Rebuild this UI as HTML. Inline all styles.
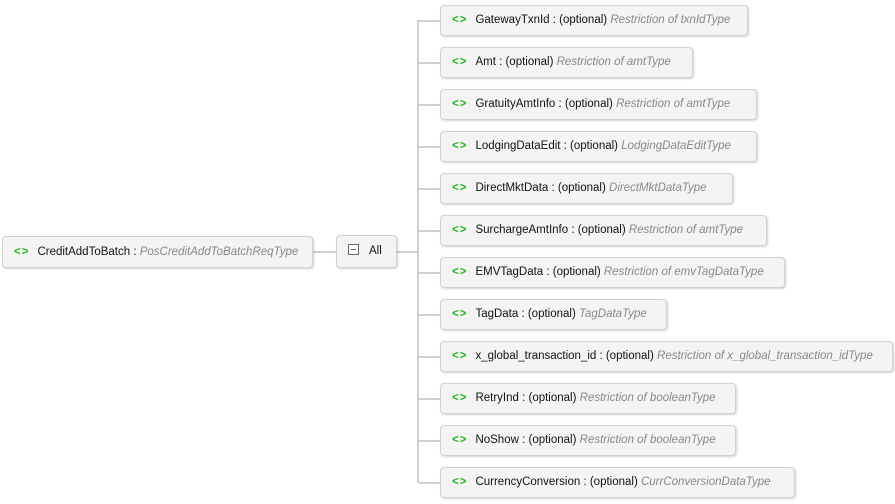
<!DOCTYPE html>
<html><head><meta charset="utf-8"><style>
body{margin:0;width:895px;height:504px;background:#fff;position:relative;font-family:"Liberation Sans",sans-serif;font-size:11.5px;overflow:hidden}
.b{position:absolute;box-sizing:border-box;background:#f4f4f4;border:1px solid #d2d2d2;border-radius:4px;box-shadow:1px 1px 2px rgba(0,0,0,.18);height:31px;line-height:29px;padding-left:11px;white-space:nowrap;color:#111}
.i{color:#22bb22;font-weight:bold;margin-right:8px;letter-spacing:1px}
.t{color:#888;font-style:italic}
.l{position:absolute;background:#cfcfcf}
</style></head><body>
<div class="l" style="left:313px;top:251px;width:23px;height:2px"></div>
<div class="l" style="left:397px;top:251px;width:22px;height:2px"></div>
<div class="l" style="left:417px;top:20px;width:2px;height:463px"></div>
<div class="b" style="left:2px;top:236px;width:311px;height:32px;line-height:30px"><span class="i">&lt;&gt;</span>CreditAddToBatch : <span class="t">PosCreditAddToBatchReqType</span></div>
<div class="b" style="left:336px;top:235px;width:61px;height:33px;line-height:31px"><span style="display:inline-block;width:9px;height:9px;border:1px solid #666;vertical-align:middle;margin-right:10px;position:relative;top:-1px;background:#fff"><span style="position:absolute;left:2px;top:4px;width:5px;height:1px;background:#666"></span></span>All</div>
<div id="c"></div>
<script>
var d=[["GatewayTxnId","Restriction of txnIdType",748],["Amt","Restriction of amtType",693],["GratuityAmtInfo","Restriction of amtType",757],["LodgingDataEdit","LodgingDataEditType",757],["DirectMktData","DirectMktDataType",733],["SurchargeAmtInfo","Restriction of amtType",767],["EMVTagData","Restriction of emvTagDataType",785],["TagData","TagDataType",667],["x_global_transaction_id","Restriction of x_global_transaction_idType",893],["RetryInd","Restriction of booleanType",736],["NoShow","Restriction of booleanType",736],["CurrencyConversion","CurrConversionDataType",795]];
var h="";d.forEach(function(e,k){var y=5+42*k;h+='<div class="l" style="left:419px;top:'+(y+15)+'px;width:21px;height:2px"></div><div class="b" style="left:440px;top:'+y+'px;width:'+(e[2]-440)+'px"><span class="i">&lt;&gt;</span>'+e[0]+' : (optional) <span class="t">'+e[1]+'</span></div>';});
document.getElementById("c").innerHTML=h;
</script>
</body></html>
